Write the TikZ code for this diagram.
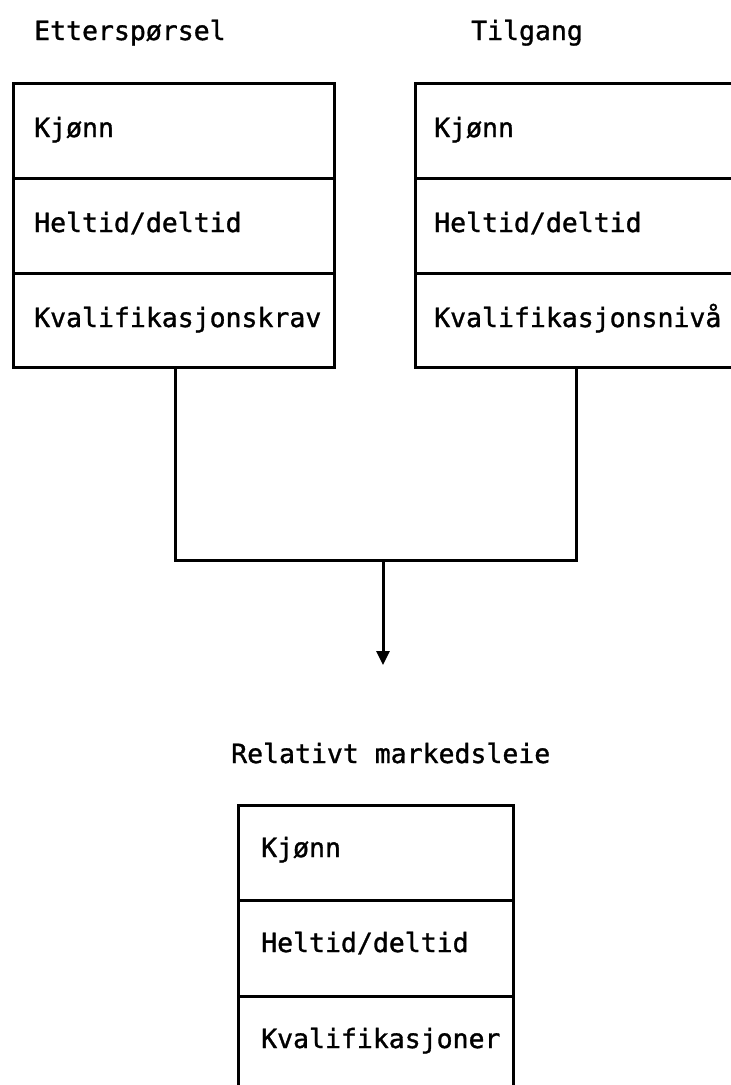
\documentclass[tikz,border=0pt]{standalone}
\usepackage{fontspec}
\newfontfamily\typefont[FakeBold=1.2]{DejaVu Sans Mono}
\usetikzlibrary{arrows.meta}
\begin{document}
\begin{tikzpicture}[x=1pt,y=-1pt,
  cell/.style={draw, line width=3pt, outer sep=0pt, inner sep=0pt,
    anchor=north west, minimum height=95pt},
  lbl/.style={inner sep=0pt, anchor=base west,
    font=\typefont\fontsize{26.5}{30}\selectfont},
  wire/.style={line width=3pt, line join=miter},
]
\useasboundingbox (0,0) rectangle (731,1085);
\clip (0,0) rectangle (731,1085);

% headings
\node[lbl] (hdemand) at (34,40) {Etterspørsel};
\node[lbl] (hsupply) at (471,40) {Tilgang};
\node[lbl] (hresult) at (231,763) {Relativt markedsleie};

% demand side
\node[cell, minimum width=321pt] (L1) at (13,83) {};
\node[cell, minimum width=321pt] (L2) at (13,178) {};
\node[cell, minimum width=321pt, minimum height=94pt] (L3) at (13,273) {};
\node[lbl] (tL1) at ([shift={(21pt,-54pt)}]L1.north west) {Kjønn};
\node[lbl] (tL2) at ([shift={(21pt,-54pt)}]L2.north west) {Heltid/deltid};
\node[lbl] (tL3) at ([shift={(21pt,-54pt)}]L3.north west) {Kvalifikasjonskrav};

% supply side
\node[cell, minimum width=345pt] (R1) at (415,83) {};
\node[cell, minimum width=345pt] (R2) at (415,178) {};
\node[cell, minimum width=345pt, minimum height=94pt] (R3) at (415,273) {};
\node[lbl] (tR1) at ([shift={(19pt,-54pt)}]R1.north west) {Kjønn};
\node[lbl] (tR2) at ([shift={(19pt,-54pt)}]R2.north west) {Heltid/deltid};
\node[lbl] (tR3) at ([shift={(19pt,-54pt)}]R3.north west) {Kvalifikasjonsnivå};

% result
\node[cell, minimum width=275pt] (B1) at (238,805) {};
\node[cell, minimum width=275pt, minimum height=96pt] (B2) at (238,900) {};
\node[cell, minimum width=275pt, minimum height=96pt] (B3) at (238,996) {};
\node[lbl] (tB1) at ([shift={(23pt,-52pt)}]B1.north west) {Kjønn};
\node[lbl] (tB2) at ([shift={(23pt,-52pt)}]B2.north west) {Heltid/deltid};
\node[lbl] (tB3) at ([shift={(23pt,-52pt)}]B3.north west) {Kvalifikasjoner};

% joining lines
\coordinate (lfoot) at ([xshift=162pt]L3.south west);
\coordinate (rfoot) at ([xshift=161pt]R3.south west);
\coordinate (split) at (383,560);
\coordinate (tip) at (383,665);
\draw[wire] (lfoot) -- (lfoot |- split) -- (rfoot |- split) -- (rfoot);
\draw[wire, -{Triangle[length=14pt,width=13pt]}] (split) -- (tip);
\end{tikzpicture}
\end{document}
